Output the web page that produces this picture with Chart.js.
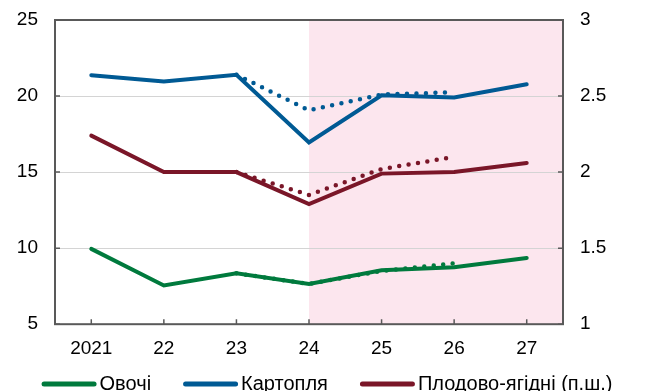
<!DOCTYPE html>
<html>
<head>
<meta charset="utf-8">
<script src="https://cdn.jsdelivr.net/npm/chart.js@4/dist/chart.umd.min.js"></script>
<style>
  html, body { margin: 0; padding: 0; background: #fff; overflow: hidden; }
  #chart { display: block; }
</style>
</head>
<body>
<canvas id="chart" width="654" height="391"></canvas>
<script>
// categories and values
const categories = ['2021', '22', '23', '24', '25', '26', '27'];
const seriesNames = ['Овочі', 'Картопля', 'Плодово-ягідні (п.ш.)'];
const vegetables = [9.95, 7.55, 8.35, 7.65, 8.55, 8.75, 9.35];
const potatoes = [21.37, 20.95, 21.4, 16.95, 20.05, 19.9, 20.77];
const fruits = [2.24, 2.0, 2.0, 1.79, 1.99, 2.0, 2.06];
// previous forecast (dotted)
const vegetablesPrev = [null, null, 8.35, 7.65, 8.5, 9.0, null];
const potatoesPrev = [null, null, 21.4, 19.06, 20.1, 20.25, null];
const fruitsPrev = [null, null, 2.0, 1.85, 2.02, 2.1, null];
const leftTicks = [5, 10, 15, 20, 25];
const rightTicks = [1, 1.5, 2, 2.5, 3];
const forecastStart = '24';

const GREEN = '#007a3d';
const BLUE = '#005a94';
const MAROON = '#7a1628';
const FONT = 'Liberation Sans, Arial, sans-serif';

const solid = (label, data, color, axis) => ({
    label, data, yAxisID: axis,
    borderColor: color, backgroundColor: color,
    borderWidth: 4, pointRadius: 0, tension: 0, order: 1,
    borderCapStyle: 'round', borderJoinStyle: 'miter'
});
const dotted = (label, data, color, axis) => ({
    label, data, yAxisID: axis, prev: true,
    borderColor: color, backgroundColor: color,
    borderWidth: 4.5, pointRadius: 0, tension: 0, order: 2,
    borderDash: [0, 9.5], borderCapStyle: 'round', spanGaps: false
});

const decor = {
    id: 'decor',
    beforeDraw(chart) {
        const { ctx, chartArea: a, scales } = chart;
        const x0 = scales.x.getPixelForValue(categories.indexOf(forecastStart));
        ctx.save();
        ctx.fillStyle = '#fce6ee';
        ctx.fillRect(x0, a.top, a.right - x0, a.bottom - a.top);
        ctx.restore();
    },
    afterDraw(chart) {
        const { ctx, chartArea: a, scales } = chart;
        ctx.save();
        ctx.strokeStyle = '#595959';
        ctx.lineWidth = 2;
        ctx.strokeRect(a.left, a.top, a.right - a.left, a.bottom - a.top);
        ctx.lineWidth = 1.5;
        ctx.beginPath();
        categories.forEach((c, i) => {
            const x = scales.x.getPixelForValue(i);
            ctx.moveTo(x, a.bottom);
            ctx.lineTo(x, a.bottom - 5);
        });
        rightTicks.forEach(v => {
            const y = scales.y1.getPixelForValue(v);
            ctx.moveTo(a.right, y);
            ctx.lineTo(a.right - 5, y);
        });
        leftTicks.forEach(v => {
            const y = scales.y.getPixelForValue(v);
            ctx.moveTo(a.left, y);
            ctx.lineTo(a.left + 5, y);
        });
        ctx.stroke();

        // legend: line swatch + label, centred under the chart
        const items = chart.data.datasets.filter(d => !d.prev);
        const lineW = 55, gap = 3, between = 32;
        ctx.font = '20px ' + FONT;
        const widths = items.map(d => ctx.measureText(d.label).width);
        const total = widths.reduce((s, w) => s + w + lineW + gap, 0) + between * (items.length - 1);
        let x = (chart.width - total) / 2;
        const y = chart.height - 7;
        ctx.textBaseline = 'middle';
        ctx.textAlign = 'left';
        ctx.lineCap = 'round';
        ctx.lineWidth = 5;
        items.forEach((d, i) => {
            ctx.strokeStyle = d.borderColor;
            ctx.beginPath();
            ctx.moveTo(x + 2.5, y);
            ctx.lineTo(x + lineW - 2.5, y);
            ctx.stroke();
            ctx.fillStyle = '#000';
            ctx.fillText(d.label, x + lineW + gap, y);
            x += lineW + gap + widths[i] + between;
        });
        ctx.restore();
    }
};

const fitY = width => s => {
    s.width = width;
    s.paddingTop = 0;
    s.paddingBottom = 0;
};

new Chart(document.getElementById('chart'), {
    type: 'line',
    data: {
        labels: categories,
        datasets: [
            solid(seriesNames[0], vegetables, GREEN, 'y'),
            solid(seriesNames[1], potatoes, BLUE, 'y'),
            solid(seriesNames[2], fruits, MAROON, 'y1'),
            dotted(seriesNames[0] + ' (попередній)', vegetablesPrev, GREEN, 'y'),
            dotted(seriesNames[1] + ' (попередній)', potatoesPrev, BLUE, 'y'),
            dotted(seriesNames[2] + ' (попередній)', fruitsPrev, MAROON, 'y1')
        ]
    },
    options: {
        responsive: false,
        animation: false,
        layout: { padding: { left: 0, right: 0, top: 20, bottom: 25 } },
        plugins: {
            tooltip: { enabled: false },
            legend: { display: false }
        },
        scales: {
            x: {
                offset: true,
                grid: { display: false },
                border: { display: false },
                ticks: { color: '#000', padding: 5.5, font: { family: FONT, size: 19 } }
            },
            y: {
                position: 'left',
                min: 5, max: 25,
                afterBuildTicks: s => { s.ticks = leftTicks.map(v => ({ value: v })); },
                afterFit: fitY(55),
                grid: { color: '#d4d4d4', lineWidth: 1, drawTicks: false },
                border: { display: false },
                ticks: { color: '#000', padding: 17, font: { family: FONT, size: 19 } }
            },
            y1: {
                position: 'right',
                min: 1, max: 3,
                afterBuildTicks: s => { s.ticks = rightTicks.map(v => ({ value: v })); },
                afterFit: fitY(91),
                grid: { drawOnChartArea: false, drawTicks: false },
                border: { display: false },
                ticks: { color: '#000', padding: 17, font: { family: FONT, size: 19 }, callback: v => String(v) }
            }
        }
    },
    plugins: [decor]
});
</script>
</body>
</html>
